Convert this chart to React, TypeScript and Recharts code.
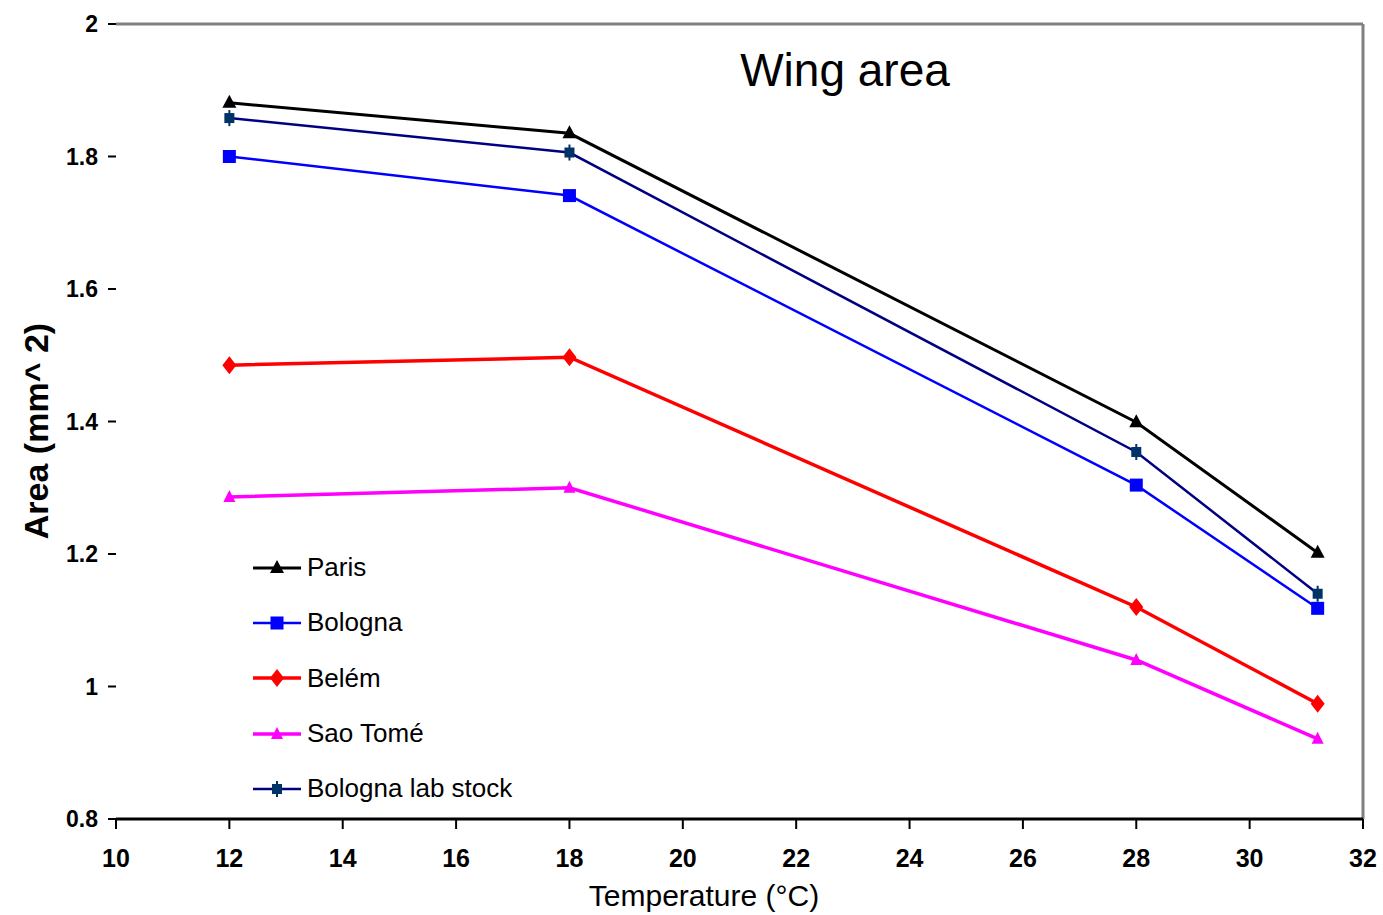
import React from 'react'
import {
  LineChart, Line, XAxis, YAxis, ReferenceLine,
} from 'recharts'

const temps = [12, 18, 28, 31.2]
const paris = [1.881, 1.835, 1.399, 1.202]
const bologna = [1.8, 1.741, 1.304, 1.118]
const belem = [1.485, 1.497, 1.12, 0.974]
const saoTome = [1.286, 1.3, 1.04, 0.921]
const labStock = [1.858, 1.806, 1.354, 1.14]

const xTicks = [10, 12, 14, 16, 18, 20, 22, 24, 26, 28, 30, 32]
const yTicks = [0.8, 1, 1.2, 1.4, 1.6, 1.8, 2]

const chartData = temps.map((t, i) => ({
  temp: t,
  paris: paris[i],
  bologna: bologna[i],
  belem: belem[i],
  saoTome: saoTome[i],
  labStock: labStock[i],
}))

type Shape = 'triangle' | 'square' | 'diamond' | 'smalltri' | 'star'

const series: { key: string; name: string; line: string; mark: string; shape: Shape; w: number }[] = [
  { key: 'paris', name: 'Paris', line: '#000000', mark: '#000000', shape: 'triangle', w: 3 },
  { key: 'bologna', name: 'Bologna', line: '#0000ff', mark: '#0000ff', shape: 'square', w: 2.5 },
  { key: 'belem', name: 'Belém', line: '#ff0000', mark: '#ff0000', shape: 'diamond', w: 3.5 },
  { key: 'saoTome', name: 'Sao Tomé', line: '#ff00ff', mark: '#ff00ff', shape: 'smalltri', w: 3.5 },
  { key: 'labStock', name: 'Bologna lab stock', line: '#000080', mark: '#003366', shape: 'star', w: 2.5 },
]

const font = '"Liberation Sans", Arial, sans-serif'

function Marker({ cx, cy, shape, color }: { cx: number; cy: number; shape: Shape; color: string }) {
  if (cx == null || cy == null) return null
  switch (shape) {
    case 'square':
      return <rect x={cx - 6.5} y={cy - 6.5} width={13} height={13} fill={color} />
    case 'diamond':
      return <polygon points={`${cx},${cy - 9} ${cx + 7},${cy} ${cx},${cy + 9} ${cx - 7},${cy}`} fill={color} />
    case 'triangle':
      return <polygon points={`${cx},${cy - 8} ${cx + 7},${cy + 5} ${cx - 7},${cy + 5}`} fill={color} />
    case 'smalltri':
      return <polygon points={`${cx},${cy - 7} ${cx + 6},${cy + 5} ${cx - 6},${cy + 5}`} fill={color} />
    default:
      return (
        <g fill={color}>
          <rect x={cx - 5} y={cy - 5} width={10} height={10} />
          <rect x={cx - 1} y={cy - 8} width={2} height={16} />
        </g>
      )
  }
}

function LegendBox() {
  return (
    <div style={{ position: 'absolute', left: 253, top: 540, fontFamily: font, fontSize: 26, color: '#000' }}>
      {series.map(s => (
        <div key={s.key} style={{ display: 'flex', alignItems: 'center', height: 55.3 }}>
          <svg width={52} height={20}>
            <line x1={0} y1={10} x2={48} y2={10} stroke={s.line} strokeWidth={s.w} />
            <Marker cx={24} cy={10} shape={s.shape} color={s.mark} />
          </svg>
          <span style={{ marginLeft: 2 }}>{s.name}</span>
        </div>
      ))}
    </div>
  )
}

export default function App() {
  return (
    <div style={{ position: 'absolute', left: 0, top: 0, width: 1383, height: 915, background: '#fff' }}>
      <LineChart width={1383} height={915} data={chartData}
        margin={{ top: 24, right: 20, left: 0, bottom: 0 }}>
        <XAxis dataKey="temp" type="number" domain={[10, 32]} ticks={xTicks} allowDataOverflow
          height={96} tickSize={10} tickMargin={20}
          axisLine={{ stroke: '#000', strokeWidth: 3 }} tickLine={{ stroke: '#000', strokeWidth: 2 }}
          tick={{ fontSize: 25, fill: '#000', fontFamily: font, fontWeight: 'bold' }} />
        <YAxis type="number" domain={[0.8, 2]} ticks={yTicks} width={116} allowDataOverflow
          axisLine={false} tickSize={8} tickMargin={10}
          tickLine={{ stroke: '#000', strokeWidth: 2 }}
          tick={{ fontSize: 23, fill: '#000', fontFamily: font, fontWeight: 'bold' }} />
        <ReferenceLine y={2} stroke="#808080" strokeWidth={3} />
        <ReferenceLine x={32} stroke="#808080" strokeWidth={3} />
        {series.map(s => (
          <Line key={s.key} dataKey={s.key} name={s.name} stroke={s.line} strokeWidth={s.w}
            isAnimationActive={false}
            dot={(p: any) => <Marker key={`${s.key}-${p.index}`} cx={p.cx} cy={p.cy} shape={s.shape} color={s.mark} />}
            activeDot={false} />
        ))}
        <text x={845} y={86} textAnchor="middle" fontSize={46} fontFamily={font}>Wing area</text>
        <text x={704} y={906} textAnchor="middle" fontSize={30} fontFamily={font}>Temperature (°C)</text>
        <text x={48} y={431} textAnchor="middle" fontSize={34} fontWeight="bold" transform="rotate(-90 48 431)"
          fontFamily={font}>Area (mm^ 2)</text>
      </LineChart>
      <LegendBox />
    </div>
  )
}
